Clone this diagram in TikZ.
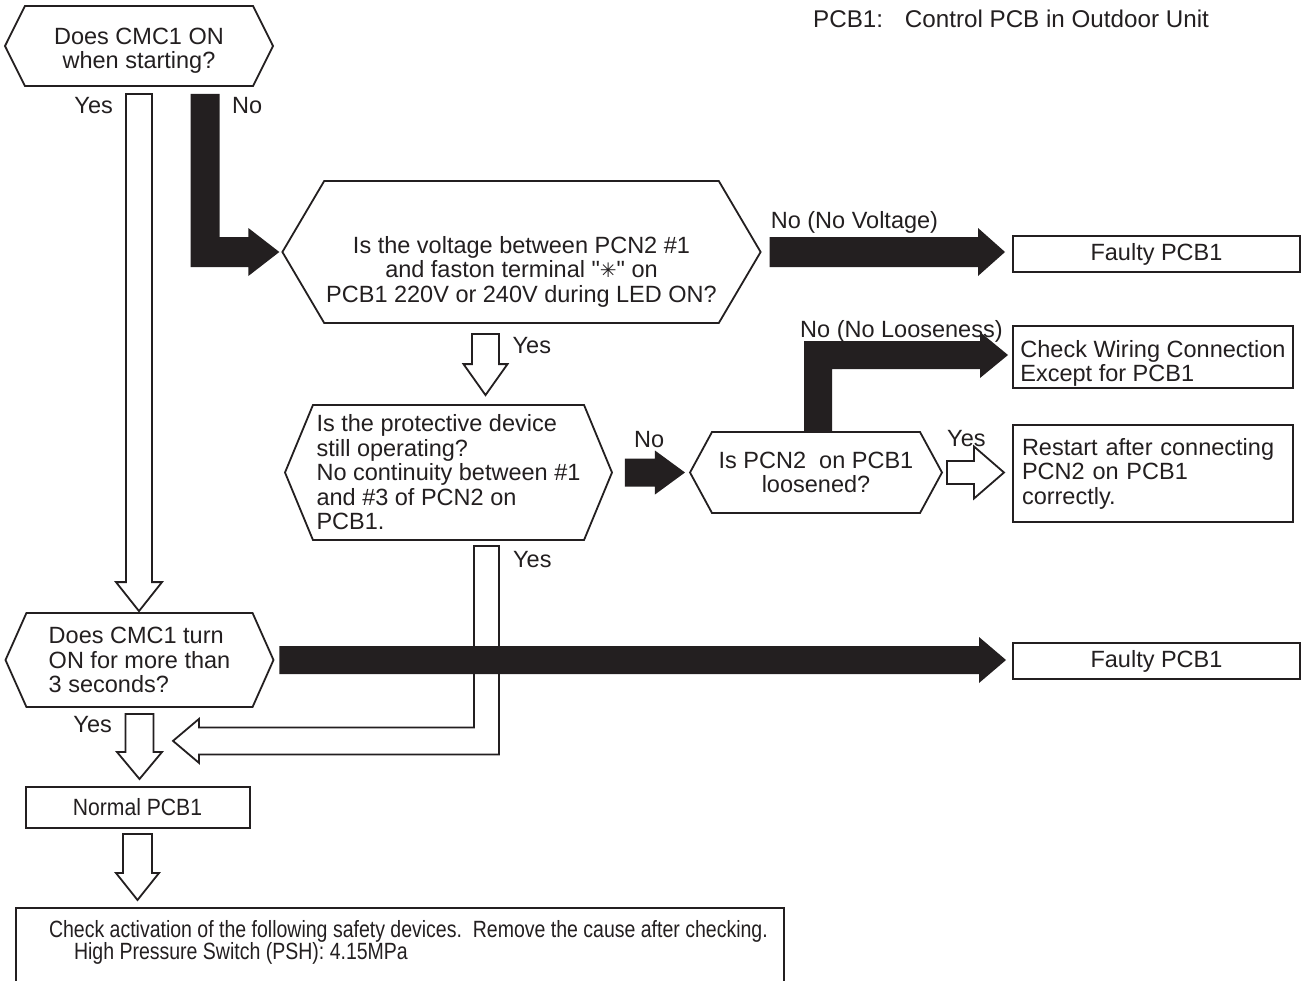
\documentclass[tikz,border=0pt]{standalone}
\usepackage{fontspec}
\setmainfont{Liberation Sans}[Ligatures=TeXOff]
\newfontfamily\angosta{Liberation Sans}[Ligatures=TeXOff, FakeStretch=0.83]
\newfontfamily\angostaMedia{Liberation Sans}[Ligatures=TeXOff, FakeStretch=0.9]
\newfontfamily\simbolos{DejaVu Sans}
\usetikzlibrary{calc, shapes.symbols}
\definecolor{tinta}{HTML}{231F20}
\newcommand{\fuenteDiag}{\fontsize{23.5pt}{24.5pt}\selectfont}
\tikzset{
  decision/.style={signal, signal to=west and east, draw=tinta, line width=1.8pt,
    fill=white, align=center, inner sep=2pt},
  cajaRes/.style={rectangle, draw=tinta, line width=2pt, fill=white,
    align=center, inner sep=2pt},
  flechaNegra/.style={fill=tinta, draw=none},
  flechaHueca/.style={draw=tinta, line width=1.8pt, fill=white, line join=miter},
  etiqueta/.style={inner sep=0pt},
}
\begin{document}
\begin{tikzpicture}[x=1pt, y=-1pt, every node/.style={font=\fuenteDiag, text=tinta}]
  \useasboundingbox[fill=white] (0,0) rectangle (1303,980);
  \node[etiqueta, anchor=base west, font=\fontsize{24.2pt}{25pt}\selectfont] (nota) at (813,27)
    {PCB1:\hspace{0.9em}Control PCB in Outdoor Unit};

  % preguntas
  \node[decision, signal pointer angle=127, minimum width=268pt, minimum height=80pt, text height=50pt] (q1) at (139,46)
    {Does CMC1 ON\\when starting?};
  \node[decision, signal pointer angle=119, minimum width=473pt, minimum height=142pt, text height=105pt] (q2) at (521.5,252)
    {Is the voltage between PCN2 \#1\\and faston terminal "{\simbolos\fontsize{20pt}{20pt}\selectfont ✳}" on\\PCB1 220V or 240V during LED ON?};
  \node[decision, signal pointer angle=135, minimum width=327pt, minimum height=135pt, align=left] (q3) at (448.5,472.5)
    {Is the protective device\\still operating?\\No continuity between \#1\\and \#3 of PCN2 on\\PCB1.};
  \node[decision, signal pointer angle=123, minimum width=252pt, minimum height=81pt] (q4) at (816,472.5)
    {Is PCN2\ \ on PCB1\\loosened?};
  \node[decision, signal pointer angle=132, minimum width=268pt, minimum height=94pt, align=left] (q5) at (139.5,660)
    {Does CMC1 turn\\ON for more than\\3 seconds?};

  % resultados
  \node[cajaRes, minimum width=287pt, minimum height=36pt] (f1) at (1156.5,254) {Faulty PCB1};
  \node[cajaRes, minimum width=280pt, minimum height=60pt, align=left, text height=54pt] (cw) at (1153,357)
    {Check Wiring Connection\\Except for PCB1};
  \node[cajaRes, minimum width=280pt, minimum height=97pt, align=left, text width=262pt] (r1) at (1153,473.5)
    {Restart after connecting\\PCN2 on PCB1\\correctly.};
  \node[cajaRes, minimum width=287pt, minimum height=36pt] (f2) at (1156.5,661) {Faulty PCB1};
  \node[cajaRes, minimum width=224pt, minimum height=41pt, font=\fuenteDiag\angostaMedia] (nrm) at (137.5,807.5) {Normal PCB1};
  \node[cajaRes, anchor=north west, align=left,
    inner xsep=16.5pt, inner ysep=12pt, text depth=80pt,
    font=\fontsize{23.5pt}{22.5pt}\selectfont\angosta] (chk) at (15,907)
    {\makebox[735pt][l]{\hspace*{16.5pt}Check activation of the following safety devices.\ \ Remove the cause after checking.}\\
     \makebox[735pt][l]{\hspace*{41.5pt}High Pressure Switch (PSH): 4.15MPa}};

  % flechas
  \coordinate (a1s) at ($(q1.south)+(0,7)$);
  \coordinate (a1t) at ($(a1s |- q5.north)+(0,-1)$);
  \draw[flechaHueca] ($(a1s)+(-13,0)$) -- ($(a1t)+(-13,-29)$) -- ($(a1t)+(-23,-29)$) -- (a1t)
    -- ($(a1t)+(23,-29)$) -- ($(a1t)+(13,-29)$) -- ($(a1s)+(13,0)$) -- cycle;

  \coordinate (a2s) at ($(q1.south)+(66,7)$);
  \coordinate (a2t) at ($(q2.west)+(-2,0)$);
  \fill[flechaNegra] ($(a2s)+(-14.5,0)$) -- ($(a2s)+(14.5,0)$) -- ($(a2s |- a2t)+(14.5,-15)$)
    -- ($(a2t)+(-31,-15)$) -- ($(a2t)+(-31,-24)$) -- (a2t) -- ($(a2t)+(-31,24)$)
    -- ($(a2t)+(-31,15)$) -- ($(a2s |- a2t)+(-14.5,15)$) -- cycle;

  \coordinate (a3s) at ($(q2.east)+(8,0)$);
  \coordinate (a3t) at ($(a3s -| f1.west)+(-7,0)$);
  \fill[flechaNegra] ($(a3s)+(0,-15)$) -- ($(a3t)+(-27,-15)$) -- ($(a3t)+(-27,-24)$) -- (a3t)
    -- ($(a3t)+(-27,24)$) -- ($(a3t)+(-27,15)$) -- ($(a3s)+(0,15)$) -- cycle;

  \coordinate (a4s) at ($(q2.south)+(-36,10)$);
  \coordinate (a4t) at ($(a4s |- q3.north)+(0,-9)$);
  \draw[flechaHueca] ($(a4s)+(-13.5,0)$) -- ($(a4t)+(-13.5,-31)$) -- ($(a4t)+(-22,-31)$) -- (a4t)
    -- ($(a4t)+(22,-31)$) -- ($(a4t)+(13.5,-31)$) -- ($(a4s)+(13.5,0)$) -- cycle;

  \coordinate (a5s) at ($(q3.east)+(12,0)$);
  \coordinate (a5t) at ($(a5s -| q4.west)+(-4,0)$);
  \fill[flechaNegra] ($(a5s)+(0,-14)$) -- ($(a5t)+(-30,-14)$) -- ($(a5t)+(-30,-22)$) -- (a5t)
    -- ($(a5t)+(-30,22)$) -- ($(a5t)+(-30,14)$) -- ($(a5s)+(0,14)$) -- cycle;

  \coordinate (a6s) at ($(q4.north)+(2,0)$);
  \coordinate (a6t) at ($(cw.west)+(-4,-2)$);
  \fill[flechaNegra] ($(a6s)+(-14,0)$) -- ($(a6s |- a6t)+(-14,-14)$) -- ($(a6t)+(-28,-14)$)
    -- ($(a6t)+(-28,-23)$) -- (a6t) -- ($(a6t)+(-28,23)$) -- ($(a6t)+(-28,14)$)
    -- ($(a6s |- a6t)+(14,14)$) -- ($(a6s)+(14,0)$) -- cycle;

  \coordinate (a7s) at ($(q4.east)+(4,0)$);
  \coordinate (a7t) at ($(a7s -| r1.west)+(-8,0)$);
  \draw[flechaHueca] ($(a7s)+(0,-11.5)$) -- ($(a7t)+(-30,-11.5)$) -- ($(a7t)+(-30,-26)$) -- (a7t)
    -- ($(a7t)+(-30,26)$) -- ($(a7t)+(-30,11.5)$) -- ($(a7s)+(0,11.5)$) -- cycle;

  \coordinate (a9s) at ($(q3.south)+(38,5)$);
  \coordinate (a9t) at ($(q5.south)+(33.5,33)$);
  \draw[flechaHueca] ($(a9s)+(-12.5,0)$) -- ($(a9s |- a9t)+(-12.5,-13.5)$) -- ($(a9t)+(26,-13.5)$)
    -- ($(a9t)+(26,-22)$) -- (a9t) -- ($(a9t)+(26,22)$) -- ($(a9t)+(26,13.5)$)
    -- ($(a9s |- a9t)+(12.5,13.5)$) -- ($(a9s)+(12.5,0)$) -- cycle;

  \coordinate (a8s) at ($(q5.east)+(5,0)$);
  \coordinate (a8t) at ($(a8s -| f2.west)+(-6,0)$);
  \fill[flechaNegra] ($(a8s)+(0,-14)$) -- ($(a8t)+(-27,-14)$) -- ($(a8t)+(-27,-23)$) -- (a8t)
    -- ($(a8t)+(-27,23)$) -- ($(a8t)+(-27,14)$) -- ($(a8s)+(0,14)$) -- cycle;

  \coordinate (a10s) at ($(q5.south)+(0,6)$);
  \coordinate (a10t) at ($(a10s |- nrm.north)+(0,-7)$);
  \draw[flechaHueca] ($(a10s)+(-14,0)$) -- ($(a10t)+(-14,-27)$) -- ($(a10t)+(-22.5,-27)$) -- (a10t)
    -- ($(a10t)+(22.5,-27)$) -- ($(a10t)+(14,-27)$) -- ($(a10s)+(14,0)$) -- cycle;

  \coordinate (a11s) at ($(nrm.south)+(0,5)$);
  \coordinate (a11t) at ($(a11s |- chk.north)+(0,-7)$);
  \draw[flechaHueca] ($(a11s)+(-14.5,0)$) -- ($(a11t)+(-14.5,-27)$) -- ($(a11t)+(-21.5,-27)$) -- (a11t)
    -- ($(a11t)+(21.5,-27)$) -- ($(a11t)+(14.5,-27)$) -- ($(a11s)+(14.5,0)$) -- cycle;

  % etiquetas
  \node[etiqueta, anchor=base east] (l1) at ($(q1.south)+(-26,27)$) {Yes};
  \node[etiqueta, anchor=base west] (l2) at ($(q1.south)+(93,27)$) {No};
  \node[etiqueta, anchor=base west] (l3) at ($(q2.east)+(9,-24)$) {No (No Voltage)};
  \node[etiqueta, anchor=base west] (l4) at ($(q2.south)+(-9,30)$) {Yes};
  \node[etiqueta, anchor=base west] (l5) at ($(q3.east)+(21,-25)$) {No};
  \node[etiqueta, anchor=base west] (l6) at ($(q3.south)+(64.5,27)$) {Yes};
  \node[etiqueta, anchor=base west] (l7) at ($(q4.north)+(-16,-94)$) {No (No Looseness)};
  \node[etiqueta, anchor=base west] (l8) at ($(q4.east)+(4,-26)$) {Yes};
  \node[etiqueta, anchor=base east] (l9) at ($(q5.south)+(-27.5,25)$) {Yes};
\end{tikzpicture}
\end{document}
